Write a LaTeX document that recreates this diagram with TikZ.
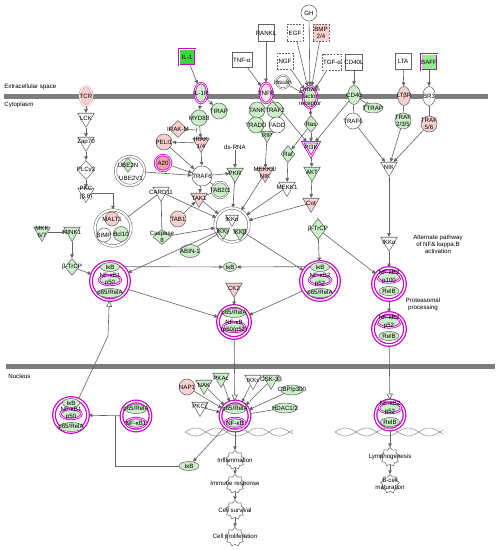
\documentclass[tikz,border=0pt]{standalone}
\usepackage{fontspec}
\newfontfamily\ipafont{Liberation Sans}
\usepackage{tikz}
\usetikzlibrary{shapes.geometric,arrows.meta,positioning,calc}
\definecolor{gfill}{RGB}{204,238,200}
\definecolor{pfill}{RGB}{248,208,208}
\definecolor{rfill}{RGB}{240,160,160}
\definecolor{hmag}{RGB}{204,0,204}
\definecolor{lgray}{RGB}{100,100,100}
\definecolor{memgray}{RGB}{125,125,125}
\definecolor{brgreen}{RGB}{60,215,60}
\definecolor{lgreen}{RGB}{150,235,150}
\definecolor{tcrpink}{RGB}{225,150,150}
\begin{document}
\begin{tikzpicture}[x=0.02cm,y=-0.02cm,
  txt/.style={font=\ipafont\fontsize{3.5}{4}\selectfont,align=center,inner sep=0pt},
  tx/.style={label={[txt]center:#1}},
  mol/.style={draw=lgray,line width=0.3pt,inner sep=0pt,fill=white},
  crc/.style={mol,circle,minimum size=0.32cm},
  tri/.style={mol,regular polygon,regular polygon sides=3,shape border rotate=180,minimum size=0.38cm},
  dia/.style={mol,diamond,minimum width=0.28cm,minimum height=0.34cm},
  ell/.style={mol,ellipse,minimum width=0.48cm,minimum height=0.18cm},
  box/.style={mol,rectangle,minimum width=0.32cm,minimum height=0.32cm},
  dbox/.style={box,dash pattern=on 1pt off 0.8pt},
  rcp/.style={mol,ellipse,minimum width=0.25cm,minimum height=0.38cm},
  fn/.style={mol,star,star points=9,star point ratio=1.3,minimum size=0.38cm},
  gr/.style={fill=gfill},
  pk/.style={fill=pfill},
  hl/.style={draw=hmag,double=white,double distance=0.4pt,line width=0.45pt},
  cplx/.style={circle,draw=hmag,double=white,double distance=0.8pt,line width=0.7pt,inner sep=0pt,fill=white},
  gcx/.style={circle,draw=lgray,double=white,double distance=1.1pt,line width=0.3pt,inner sep=0pt,fill=white},
  lnk/.style={draw=lgray,line width=0.35pt,-{Triangle[length=2.2pt,width=2pt]}},
  pln/.style={draw=lgray,line width=0.35pt},
  inh/.style={pln,-{Bar[width=3pt]}},
  opn/.style={pln,-{Triangle[open,length=3.5pt,width=3.5pt]}},
  dna/.style={draw=lgray!70,line width=0.3pt}
]
\useasboundingbox (0,0) rectangle (500,550);
\fill[white] (0,0) rectangle (500,550);
% membranes
\fill[memgray] (4,94) rectangle (488,99);
\fill[memgray] (6,364) rectangle (495,369);
\node[txt,anchor=west] (lbext) at (4,87) {Extracellular space};
\node[txt,anchor=west] (lbcyt) at (4,105) {Cytoplasm};
\node[txt,anchor=west] (lbnuc) at (8,376) {Nucleus};
% ligands
\node[box,fill=brgreen,hl,tx=IL-1] (il1) at (187,57) {};
\node[box,minimum width=0.4cm,minimum height=0.3cm,tx=TNF-α] (tnfa) at (242,60) {};
\node[box,minimum height=0.34cm,tx=RANKL] (rankl) at (266,33) {};
\node[crc,tx=GH] (gh) at (309,13) {};
\node[dbox,minimum height=0.34cm,tx=EGF] (egf) at (295,33) {};
\node[dbox,pk,minimum height=0.34cm,tx={BMP\\2/4}] (bmp) at (321,33) {};
\node[dbox,tx=NGF] (ngf) at (285,61) {};
\node[dbox,minimum width=0.38cm,tx=TGF-α] (tgfa) at (332,62) {};
\node[box,minimum width=0.34cm,tx=CD40L] (cd40l) at (354,62) {};
\node[box,tx=LTA] (lta) at (403,61) {};
\node[box,fill=lgreen,hl,tx=BAFF] (baff) at (429,62) {};
\node[crc,double,double distance=0.5pt,minimum size=0.26cm,tx=Insulin] (insulin) at (283,82) {};
% receptors
\node[rcp,pk,draw=tcrpink,double,tx=TCR] (tcr) at (86,96) {};
\node[rcp,gr,hl,minimum height=0.4cm,tx=IL-1R] (il1r) at (201,93) {};
\node[rcp,hl,fill=pfill!50,minimum height=0.4cm,tx=TNFR] (tnfr) at (266,93) {};
\node[rcp,gr,hl,minimum width=0.28cm,minimum height=0.44cm,tx={Growth\\factor\\receptor}] (gfr) at (310,97) {};
\node[rcp,gr,tx=CD40] (cd40) at (354,95) {};
\node[ell,gr,minimum width=0.4cm,minimum height=0.2cm,tx=TTRAP] (ttrap) at (373,108) {};
\node[rcp,pk,tx=LTβR] (ltbr) at (404,96) {};
\node[rcp,tx=BR3] (baffr) at (429,96) {};
% TCR branch
\node[tri,tx=LCK] (lck) at (86,118) {};
\node[tri,tx=Zap70] (zap70) at (86,142) {};
\node[dia,minimum width=0.34cm,minimum height=0.38cm,tx=PLCγ2] (plcg) at (86,170) {};
\node[tri,tx={PKC\\(β,θ)}] (pkc) at (86,193) {};
\node[gcx,minimum size=0.72cm] (maltc) at (113,228) {};
\node[crc,pk,minimum size=0.28cm,tx=MALT1] (malt1) at (112,219) {};
\node[crc,minimum size=0.28cm,tx=BIMP] (bimp) at (104,235) {};
\node[crc,gr,minimum size=0.3cm,tx=Bcl10] (bcl10) at (121,234) {};
\node[tri,gr,tx={MKK\\6/7}] (mkk67) at (42,232) {};
\node[tri,gr,tx=NINK1] (nink1) at (72,232) {};
\node[dia,gr,tx=β-TrCP] (btrcp1) at (72,267) {};
\node[cplx,minimum size=0.76cm] (cxl) at (110,281) {};
\node[ell,gr,minimum width=0.38cm,tx=IκB] (ikb1) at (110,267) {};
\node[ell,gr,hl,minimum width=0.44cm,minimum height=0.2cm,tx={NF-κB1\\p50}] (nfkb1) at (110,280) {};
\node[ell,gr,minimum width=0.5cm,tx=p65/RelA] (rela1) at (110,293) {};
% IL-1 branch
\node[crc,gr,tx=MYD88] (myd88) at (199,118) {};
\node[crc,gr,tx=TIRAP] (tirap) at (219,111) {};
\node[dia,pk,minimum width=0.36cm,minimum height=0.34cm,tx=IRAK-M] (irakm) at (178,129) {};
\node[crc,pk,tx=PELI1] (peli1) at (164,142) {};
\node[tri,pk,tx={IRAK\\1/4}] (irak) at (201,143) {};
\node[crc,fill=rfill,hl,tx=A20] (a20) at (163,163) {};
\node[gcx,minimum size=0.58cm] (ubec) at (130,171) {};
\node[dia,gr,minimum width=0.22cm,minimum height=0.3cm,tx=UBE2N] (ube2n) at (128,165) {};
\node[txt] (ube2v1) at (131,178) {UBE2V1};
\node[crc,minimum size=0.4cm,tx=TRAF6] (traf6) at (202,176) {};
\node[tri,tx=CARD11] (card11) at (161,192) {};
\node[dia,gr,minimum width=0.36cm,minimum height=0.3cm,tx={Caspase\\8}] (casp8) at (162,237) {};
\node[txt] (dsrna) at (235,147) {ds-RNA};
\node[tri,gr,tx=PKR] (pkr) at (235,173) {};
\node[crc,gr,double,tx=TAB2/3] (tab23) at (220,190) {};
\node[tri,pk,tx=TAK1] (tak1) at (199,198) {};
\node[crc,pk,tx=TAB1] (tab1) at (178,219) {};
\node[gcx,minimum size=0.68cm] (ikkc) at (232,225) {};
\node[tri,minimum size=0.3cm,tx=IKKα] (ikka) at (232,219) {};
\node[tri,gr,minimum size=0.3cm,tx=IKKγ] (ikkg) at (223,232) {};
\node[tri,gr,minimum size=0.3cm,tx=IKKβ] (ikkb) at (240,233) {};
\node[ell,gr,minimum width=0.4cm,minimum height=0.26cm,tx=ABIN-1] (abin1) at (190,251) {};
% TNF / growth factor branch
\node[crc,gr,tx=TANK] (tank) at (257,110) {};
\node[crc,gr,tx=TRAF2] (traf2) at (275,110) {};
\node[crc,gr,tx=TRADD] (tradd) at (256,125) {};
\node[crc,tx=FADD] (fadd) at (277,125) {};
\node[tri,gr,minimum size=0.3cm,tx=RIP] (rip) at (267,135) {};
\node[tri,pk,tx={MEKK3/\\NIK}] (mekk3) at (265,173) {};
\node[dia,gr,tx=Ras] (ras) at (311,124) {};
\node[dia,gr,tx=Raf] (raf) at (288,154) {};
\node[tri,fill=gfill!50,hl,tx=PI3K] (pi3k) at (311,147) {};
\node[tri,gr,tx=AKT] (akt) at (312,172) {};
\node[tri,tx=MEKK1] (mekk1) at (287,187) {};
\node[tri,pk,tx=Cot] (cot) at (311,203) {};
\node[dia,gr,minimum width=0.32cm,minimum height=0.42cm,tx=β-TrCP] (btrcp2) at (318,229) {};
\node[cplx,minimum size=0.76cm] (cxr) at (320,281) {};
\node[ell,gr,minimum width=0.38cm,tx=IκB] (ikb2) at (320,267) {};
\node[ell,gr,hl,minimum width=0.44cm,minimum height=0.2cm,tx={NF-κB2\\p52}] (nfkb2) at (320,280) {};
\node[ell,gr,minimum width=0.5cm,tx=p65/RelA] (rela2) at (320,293) {};
\node[ell,gr,minimum width=0.26cm,minimum height=0.18cm,tx=IκB] (ikbd) at (230,267) {};
\node[tri,pk,tx=CK2] (ck2) at (234,288) {};
\node[cplx,minimum size=0.64cm] (cxm) at (234,322) {};
\node[ell,gr,minimum width=0.46cm,tx=p65/RelA] (relam) at (234,313) {};
\node[ell,gr,hl,minimum width=0.44cm,minimum height=0.2cm,tx={NF-κB\\(p50/p52)}] (nfkbm) at (234,327) {};
% alternate pathway
\node[crc,tx=TRAF6] (traf6r) at (353,121) {};
\node[crc,gr,tx={TRAF\\2/3/5}] (traf235) at (403,121) {};
\node[crc,pk,tx={TRAF\\5/6}] (traf56) at (429,124) {};
\node[tri,tx=NIK] (nik) at (389,167) {};
\node[tri,tx=IKKα] (ikkar) at (389,242) {};
\node[txt] (altnote) at (438,244) {Alternate pathway\\of NF\& kappa;B\\activation};
\node[cplx,minimum size=0.64cm] (cxp100) at (389,284) {};
\node[ell,gr,hl,minimum width=0.46cm,minimum height=0.22cm,tx={NF-κB2\\p100}] (p100) at (389,277) {};
\node[ell,gr,minimum width=0.4cm,tx=RelB] (relb1) at (389,291) {};
\node[txt] (protnote) at (423,304) {Proteasomal\\processing};
\node[cplx,minimum size=0.64cm] (cxp52) at (389,329) {};
\node[ell,gr,hl,minimum width=0.46cm,minimum height=0.22cm,tx={NF-κB2\\p52}] (p52) at (389,322) {};
\node[ell,gr,minimum width=0.4cm,tx=RelB] (relb2) at (389,336) {};
% nucleus
\node[cplx,minimum size=0.68cm] (cxn1) at (71,415) {};
\node[ell,gr,minimum width=0.34cm,tx=IκB] (ikbn1) at (71,403) {};
\node[ell,gr,hl,minimum width=0.42cm,minimum height=0.2cm,tx={NF-κB1\\p50}] (nfkbn1) at (71,414) {};
\node[ell,gr,minimum width=0.48cm,tx=p65/RelA] (relan1) at (71,427) {};
\node[cplx,minimum size=0.58cm] (cxn2) at (136,416) {};
\node[ell,gr,minimum width=0.44cm,tx=p65/RelA] (relan2) at (136,409) {};
\node[ell,gr,hl,minimum width=0.4cm,minimum height=0.2cm,tx=NF-κB1] (nfkbn2) at (136,423) {};
\node[ell,gr,minimum width=0.4cm,tx=IκB] (ikbn2) at (189,466) {};
\node[crc,pk,tx=NAP1] (nap1) at (187,387) {};
\node[tri,gr,tx=NAK] (nak) at (204,385) {};
\node[tri,gr,tx=PKAc] (pkac) at (221,378) {};
\node[tri,tx=PKCζ] (pkcz) at (200,407) {};
\node[tri,tx=IKKε] (ikke) at (253,380) {};
\node[tri,gr,tx=GSK-3β] (gsk) at (271,380) {};
\node[ell,gr,minimum width=0.44cm,minimum height=0.2cm,tx=CBP/p300] (cbp) at (292,390) {};
\node[ell,gr,minimum width=0.48cm,minimum height=0.2cm,tx=HDAC1/2] (hdac) at (285,408) {};
\node[cplx,minimum size=0.58cm] (cxn3) at (235,416) {};
\node[ell,gr,minimum width=0.44cm,tx=p65/RelA] (relan3) at (235,409) {};
\node[ell,gr,hl,minimum width=0.4cm,minimum height=0.2cm,tx=NF-κB] (nfkbn3) at (235,423) {};
\node[cplx,minimum size=0.58cm] (cxn4) at (390,415) {};
\node[ell,gr,hl,minimum width=0.44cm,minimum height=0.2cm,tx={NF-κB2\\p52}] (p52n) at (390,408) {};
\node[ell,gr,minimum width=0.38cm,tx=RelB] (relbn) at (390,422) {};
% DNA
\foreach \xa/\xb in {185/293,335/443}{
  \draw[dna] plot[domain=\xa:\xb,samples=90] (\x,{432+4*sin(8.6*(\x-\xa))});
  \draw[dna] plot[domain=\xa:\xb,samples=90] (\x,{432-4*sin(8.6*(\x-\xa))});
}
\node[fn,tx=Inflammation] (infl) at (235,460) {};
\node[fn,tx={Immune response}] (immr) at (235,484) {};
\node[fn,tx={Cell survival}] (csurv) at (235,510) {};
\node[fn,tx={Cell proliferation}] (cprol) at (235,537) {};
\node[fn,tx=Lymphogenesis] (lymph) at (390,457) {};
\node[fn,tx={B-cell\\maturation}] (bcell) at (390,484) {};
% connectors
\foreach \a/\b in {il1/il1r,tnfa/tnfr,rankl/tnfr,gh/gfr,egf/gfr,bmp/gfr,ngf/gfr,tgfa/gfr,insulin/gfr,cd40l/cd40,lta/ltbr,baff/baffr,
  tcr/lck,lck/zap70,zap70/plcg,plcg/pkc,
  il1r/myd88,il1r/tirap,myd88/irak,irak/peli1,irak/traf6,peli1/traf6,a20/traf6,ubec/traf6,traf6/pkr,traf6/tak1,tab1/tak1,tak1/ikkc,dsrna/pkr,pkr/ikkc,card11/ikkc,casp8/ikkc,
  rip/mekk3,mekk3/ikkc,tnfr/pi3k,gfr/ras,ras/raf,ras/pi3k,raf/mekk1,pi3k/akt,akt/cot,mekk1/ikkc,cot/ikkc,cd40/pi3k,
  traf6r/nik,traf235/nik,traf56/nik,nik/ikkar,ikkar/cxp100,btrcp2/cxr,btrcp2/cxp100,cxp100/cxp52,
  mkk67/nink1,nink1/btrcp1,btrcp1/cxl,ikkc/cxl,ikkc/cxr,ck2/cxm,cxn2/cxn1,
  cxn3/ikbn2,nap1/cxn3,nak/cxn3,pkac/cxn3,pkcz/cxn3,ikke/cxn3,gsk/cxn3,cbp/cxn3,
  cxn3/infl,infl/immr,immr/csurv,csurv/cprol,cxn4/lymph,lymph/bcell}{
  \draw[lnk] (\a) -- (\b);
}
\foreach \a/\b in {tnfr/tank,tnfr/traf2,traf6/tab23,tab23/tak1,maltc/card11,card11/casp8,cd40/traf6r,ltbr/traf235,baffr/traf56,hdac/cxn3}{
  \draw[pln] (\a) -- (\b);
}
\draw[lnk] (pkc) -| (maltc);
\draw[lnk] (cxl.47) -- (ikbd);
\draw[lnk] (cxr.133) -- (ikbd);
\draw[lnk] (cxl.-25) -- (cxm);
\draw[lnk] (cxr.-150) -- (cxm);
\coordinate (irkbar) at (197,130);
\draw[inh] (irakm) -- (irkbar);
\draw[inh] (cd40) -- (ttrap);
\draw[inh] (abin1) -- (ikkc);
\draw[opn] (cxm) -- (cxn3);
\draw[opn] (cxp52) -- (cxn4);
\coordinate (bend1) at (108,336);
\draw[opn] (cxn1.65) -- (bend1) -- (cxl);
\coordinate (jn) at (115,416);
\draw[pln] (ikbn2) -| (jn);
\end{tikzpicture}
\end{document}
